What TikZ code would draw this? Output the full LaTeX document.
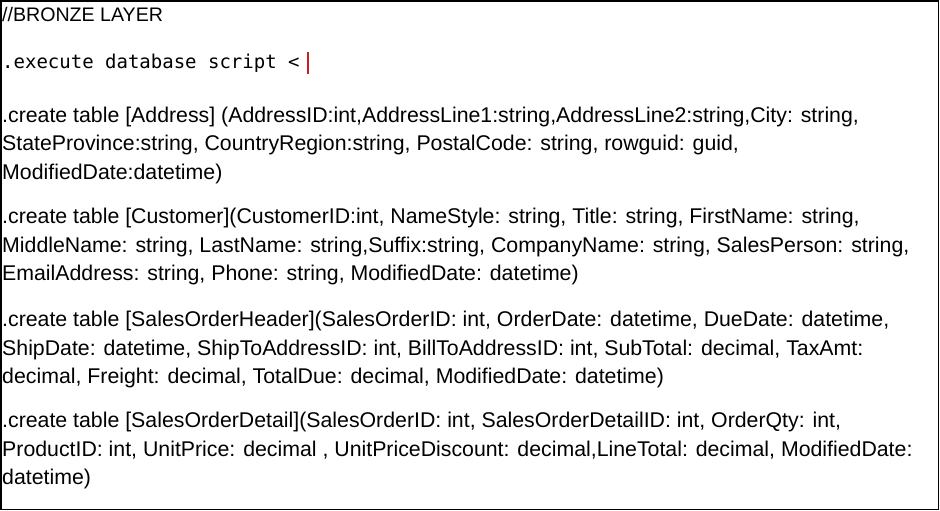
\documentclass[tikz,border=0pt]{standalone}
\usepackage{fontspec}
\setmainfont{Liberation Sans}
\setmonofont{DejaVu Sans Mono}
\usepackage{xcolor}
\usetikzlibrary{positioning}
\definecolor{cursorred}{RGB}{200,30,30}

\begin{document}
\begin{tikzpicture}[x=1pt, y=-1pt]
\tikzstyle{codeline} = [anchor=base west, inner sep=0pt, text=black, font=\fontsize{21.3}{21.3}\selectfont]
\tikzstyle{header} = [anchor=base west, inner sep=0pt, text=black, font=\fontsize{19.6}{19.6}\selectfont]
\tikzstyle{command} = [anchor=base west, inner sep=0pt, text=black, font=\ttfamily\fontsize{19}{19}\selectfont]

\useasboundingbox (0,0) rectangle (940,511);
\draw[line width=1.5pt] (1,1) rectangle (938.5,509.5);

\node[header] (layer) at (2,22) {//BRONZE LAYER};
\node[command] (exec) at (2,69) {.execute database script <};
\draw[cursorred, line width=1.6pt] ([xshift=8pt]exec.base east) ++(0,5) -- ++(0,-22);

% Address
\node[codeline] (addr1) at (2,122) {.create table [Address] (AddressID:int,AddressLine1:string,AddressLine2:string,City: string,};
\node[codeline] (addr2) at (2,150) {StateProvince:string, CountryRegion:string, PostalCode: string, rowguid: guid,};
\node[codeline] (addr3) at (2,179) {ModifiedDate:datetime)};

% Customer
\node[codeline] (cust1) at (2,223) {.create table [Customer](CustomerID:int, NameStyle: string, Title: string, FirstName: string,};
\node[codeline] (cust2) at (2,252) {MiddleName: string, LastName: string,Suffix:string, CompanyName: string, SalesPerson: string,};
\node[codeline] (cust3) at (2,280) {EmailAddress: string, Phone: string, ModifiedDate: datetime)};

% SalesOrderHeader
\node[codeline] (head1) at (2,326) {.create table [SalesOrderHeader](SalesOrderID: int, OrderDate: datetime, DueDate: datetime,};
\node[codeline] (head2) at (2,355) {ShipDate: datetime, ShipToAddressID: int, BillToAddressID: int, SubTotal: decimal, TaxAmt:};
\node[codeline] (head3) at (2,383) {decimal, Freight: decimal, TotalDue: decimal, ModifiedDate: datetime)};

% SalesOrderDetail
\node[codeline] (det1) at (2,427) {.create table [SalesOrderDetail](SalesOrderID: int, SalesOrderDetailID: int, OrderQty: int,};
\node[codeline] (det2) at (2,456) {ProductID: int, UnitPrice: decimal , UnitPriceDiscount: decimal,LineTotal: decimal, ModifiedDate:};
\node[codeline] (det3) at (2,484) {datetime)};

\end{tikzpicture}
\end{document}
